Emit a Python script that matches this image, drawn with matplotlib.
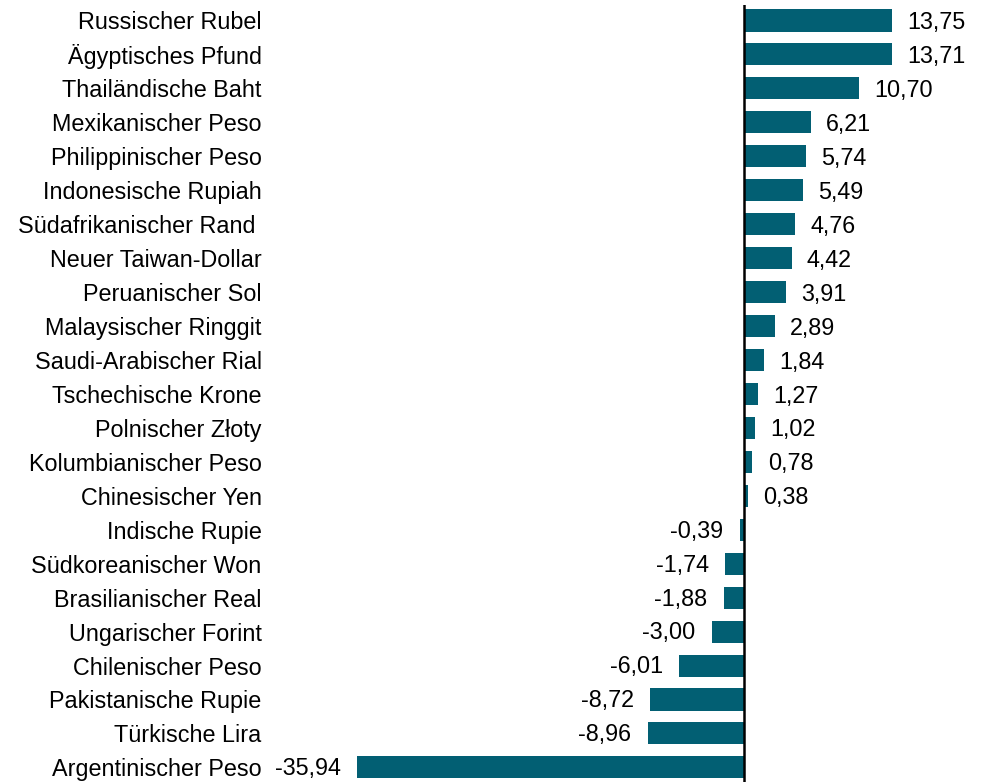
import matplotlib
matplotlib.use("Agg")
import matplotlib.pyplot as plt

categories = ["Russischer Rubel", "Ägyptisches Pfund", "Thailändische Baht", "Mexikanischer Peso",
              "Philippinischer Peso", "Indonesische Rupiah", "Südafrikanischer Rand ", "Neuer Taiwan-Dollar",
              "Peruanischer Sol", "Malaysischer Ringgit", "Saudi-Arabischer Rial", "Tschechische Krone",
              "Polnischer Złoty", "Kolumbianischer Peso", "Chinesischer Yen", "Indische Rupie",
              "Südkoreanischer Won", "Brasilianischer Real", "Ungarischer Forint", "Chilenischer Peso",
              "Pakistanische Rupie", "Türkische Lira", "Argentinischer Peso"]
values = [13.75, 13.71, 10.70, 6.21, 5.74, 5.49, 4.76, 4.42, 3.91, 2.89, 1.84, 1.27, 1.02, 0.78, 0.38,
          -0.39, -1.74, -1.88, -3.00, -6.01, -8.72, -8.96, -35.94]

plt.rcParams['font.family'] = ['Liberation Sans', 'DejaVu Sans']
W, H = 988, 782
fig = plt.figure(figsize=(W/100, H/100), dpi=100)
ax_l, ax_r = 270, 988
ax_t, ax_b = 5, 782
ax = fig.add_axes([ax_l/W, 1-ax_b/H, (ax_r-ax_l)/W, (ax_b-ax_t)/H])

color = "#025f73"
ypos = list(range(len(categories)))
ax.barh(ypos, values, height=0.65, color=color)
scale = 10.76
ax.set_xlim((ax_l-744)/scale, (ax_r-744)/scale)
row = 33.95
top_c = 20.5
ax.set_ylim((ax_b-top_c)/row, -(top_c-ax_t)/row)
ax.axvline(0, color="black", lw=1.8)

fs = 16.8
for y, v in zip(ypos, values):
    s = f"{v:.2f}".replace(".", ",")
    if v >= 0:
        ax.annotate(s, (v, y), xytext=(11, -1.5), textcoords="offset points", ha="left", va="center", fontsize=fs)
    else:
        ax.annotate(s, (v, y), xytext=(-12, -1.0), textcoords="offset points", ha="right", va="center", fontsize=fs)

ax.set_yticks(ypos)
ax.set_yticklabels(categories, fontsize=fs)
ax.tick_params(axis="y", length=0, pad=6)
ax.set_xticks([])
for sp in ax.spines.values():
    sp.set_visible(False)

fig.savefig("out.png", dpi=100)
